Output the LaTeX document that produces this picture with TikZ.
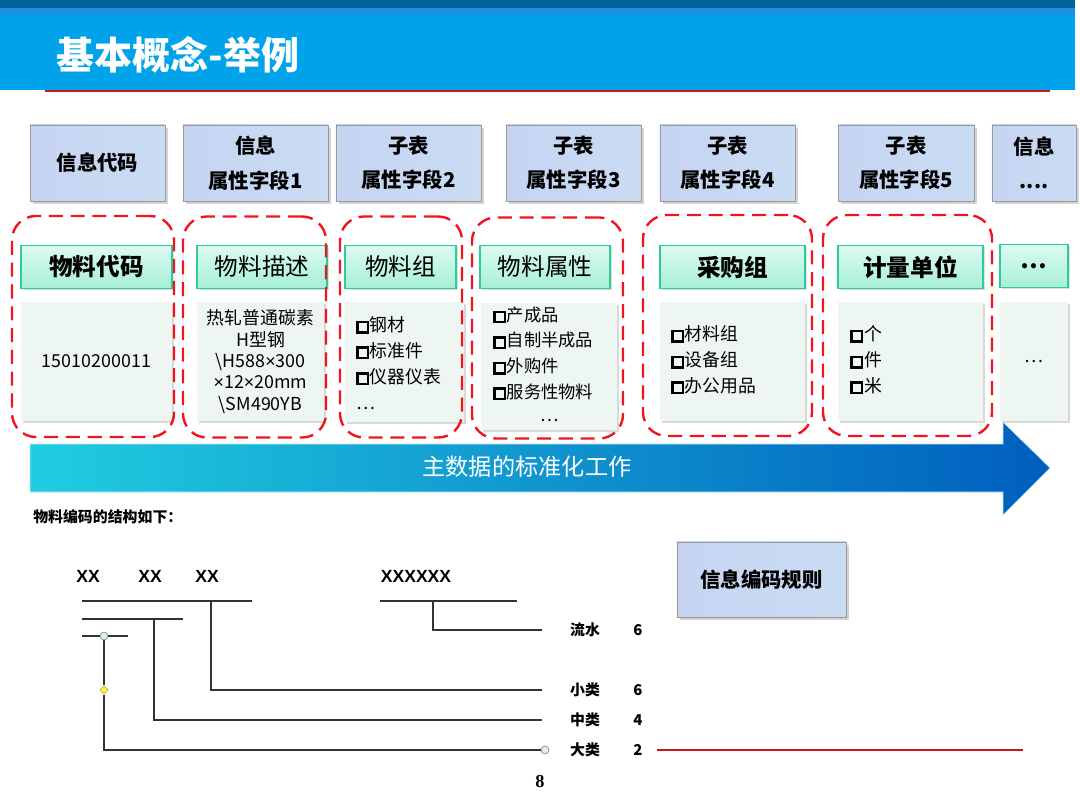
\documentclass[tikz,border=0pt]{standalone}
\usepackage{fontspec}
\setmainfont{Noto Sans CJK SC}
\newfontfamily\latinsans{Liberation Sans}
\newfontfamily\latinserif{Liberation Serif}
\usepackage{tikz}
\usetikzlibrary{shapes.geometric,shadows,calc}

\definecolor{bandDark}{HTML}{00639C}
\definecolor{bandStripe}{HTML}{1B8FE3}
\definecolor{bandMain}{HTML}{00A3E9}
\definecolor{ruleRed}{HTML}{D0141C}
\definecolor{dashRed}{HTML}{F0141E}
\definecolor{texL}{HTML}{C6D4F2}
\definecolor{texM}{HTML}{DCCEEC}
\definecolor{texR}{HTML}{C9DCF3}
\definecolor{tBorder}{HTML}{2CCB98}
\definecolor{tTop}{HTML}{DCFBF0}
\definecolor{tBot}{HTML}{A6EFD8}
\definecolor{cFill}{HTML}{EEF6F1}
\definecolor{arrL}{HTML}{20CDE0}
\definecolor{arrM}{HTML}{0A9CE2}
\definecolor{arrR}{HTML}{005EBE}
\definecolor{pinFill}{HTML}{D8EEF2}

% bold square bullet of the lists
\newcommand{\sqb}{\raisebox{0.02em}{\setlength{\fboxrule}{1.7pt}\setlength{\fboxsep}{0pt}\fbox{\rule{0pt}{0.46em}\hspace{0.46em}}}\hspace{0.04em}}
\newcommand{\tms}{{\latinsans ×}}

\begin{document}
\begin{tikzpicture}[x=0.025cm,y=-0.025cm,
  hbox/.style={draw=black!40,line width=0.6pt,left color=texL,middle color=texM,right color=texR,
    inner sep=0pt,outer sep=0pt,align=center,minimum height=1.9cm,
    font=\bfseries\fontsize{14.5}{24.5}\selectfont,
    drop shadow={shadow xshift=0.07cm,shadow yshift=-0.07cm,opacity=0.35}},
  tbox/.style={draw=tBorder,line width=1pt,top color=tTop,bottom color=tBot,
    inner sep=0pt,outer sep=0pt,minimum height=1.075cm,
    font=\fontsize{16.8}{20}\selectfont,
    drop shadow={shadow xshift=0.04cm,shadow yshift=-0.04cm,opacity=0.25}},
  cbox/.style={fill=cFill,inner sep=0pt,outer sep=0pt,minimum height=2.975cm,align=center,
    font=\fontsize{12.7}{15.2}\selectfont,
    drop shadow={shadow xshift=0.05cm,shadow yshift=-0.05cm,opacity=0.3}},
  grp/.style={draw=dashRed,line width=1.7pt,dash pattern=on 10pt off 5.5pt,
    rounded corners=0.6cm,inner sep=0pt,minimum height=5.525cm},
  lst/.style={anchor=west,align=left,inner sep=0pt,font=\fontsize{12.7}{18.4}\selectfont},
  xxl/.style={font=\latinsans\bfseries\fontsize{12.5}{14}\selectfont,inner sep=1pt},
  lvl/.style={font=\bfseries\fontsize{10.6}{12}\selectfont,inner sep=1pt},
  bar/.style={draw=black!80,line width=1pt},
  pin/.style={circle,draw=black!45,fill=pinFill,line width=0.5pt,inner sep=0pt,minimum size=0.2cm},
  diam/.style={diamond,draw=black!35,fill=yellow!85,line width=0.4pt,inner sep=0pt,minimum size=0.22cm}]
\useasboundingbox (0,0) rectangle (1080,810);
% ---------- title bar ----------
\fill[bandMain] (0,0) rectangle (1075,90);
\fill[bandStripe] (0,0) rectangle (1075,15);
\fill[bandDark] (0,0) rectangle (1075,8);
\draw[ruleRed,line width=1.6pt] (45,91) -- (1050,91);
\node[anchor=west,text=white,font=\bfseries\fontsize{27}{30}\selectfont] (title) at (52,55) {基本概念-举例};
% ---------- header fields ----------
\node[hbox,minimum width=3.375cm] (h1) at (97.5,163) {信息代码};
\node[hbox,minimum width=3.625cm] (h2) at (255.5,163) {信息\\属性字段1};
\node[hbox,minimum width=3.625cm] (h3) at (408.5,163) {子表\\属性字段2};
\node[hbox,minimum width=3.375cm] (h4) at (573.5,163) {子表\\属性字段3};
\node[hbox,minimum width=3.375cm] (h5) at (727.5,163) {子表\\属性字段4};
\node[hbox,minimum width=3.4cm] (h6) at (906,163) {子表\\属性字段5};
\node[hbox,minimum width=2.1cm] (h7) at (1034,163) {信息\\....};
% ---------- field names ----------
\node[tbox,minimum width=3.775cm,font=\bfseries\fontsize{16.8}{20}\selectfont] (t1) at (96.5,267) {物料代码};
\node[tbox,minimum width=3.25cm] (t2) at (262,267) {物料描述};
\node[tbox,minimum width=2.775cm] (t3) at (400.5,267) {物料组};
\node[tbox,minimum width=3.25cm] (t4) at (545,267) {物料属性};
\node[tbox,minimum width=3.625cm,font=\bfseries\fontsize{16.8}{20}\selectfont] (t5) at (732.5,267) {采购组};
\node[tbox,minimum width=3.625cm,font=\bfseries\fontsize{16.8}{20}\selectfont] (t6) at (910.5,267) {计量单位};
\node[tbox,minimum width=1.7cm,font=\bfseries\fontsize{16.8}{20}\selectfont] (t7) at (1034,266) {…};
% ---------- field values ----------
\node[cbox,minimum width=3.775cm] (c1) at (96.5,361.5) {15010200011};
\node[cbox,minimum width=3.175cm] (c2) at (260.5,361.5) {热轧普通碳素\\H型钢\\\textbackslash H588\tms 300\\\tms 12\tms 20mm\\\textbackslash SM490YB};
\node[cbox,minimum width=2.975cm] (c3) at (404.5,362) {};
\node[cbox,minimum width=3.4cm,minimum height=3.175cm] (c4) at (549,366.5) {};
\node[cbox,minimum width=3.625cm] (c5) at (732.5,361.5) {};
\node[cbox,minimum width=3.625cm] (c6) at (910.5,361.5) {};
\node[cbox,minimum width=1.7cm] (c7) at (1034,361.5) {…};
\node[lst] (l3) at (356,363) {\sqb 钢材\\\sqb 标准件\\\sqb 仪器仪表\\…};
\node[lst,font=\fontsize{12.3}{18.2}\selectfont] (l4) at (493,353.5) {\sqb 产成品\\\sqb 自制半成品\\\sqb 外购件\\\sqb 服务性物料};
\node[inner sep=0pt,font=\fontsize{12.3}{14}\selectfont] (l4more) at (550,421) {…};
\node[lst] (l5) at (671,360) {\sqb 材料组\\\sqb 设备组\\\sqb 办公用品};
\node[lst] (l6) at (850,360) {\sqb 个\\\sqb 件\\\sqb 米};
% ---------- dashed groups ----------
\node[grp,minimum width=4.05cm] (g1) at (93,326.5) {};
\node[grp,minimum width=3.575cm] (g2) at (254.5,327) {};
\node[grp,minimum width=3.05cm] (g3) at (401,327) {};
\node[grp,minimum width=3.775cm] (g4) at (547.5,328) {};
\node[grp,minimum width=4.225cm] (g5) at (727.5,325.5) {};
\node[grp,minimum width=4.225cm] (g6) at (907.5,325.5) {};
% ---------- flow arrow ----------
\shade[left color=arrL,middle color=arrM,right color=arrR,draw=cyan!25,line width=0.4pt]
  (30,444) -- (1003,444) -- (1003,422) -- (1050,468) -- (1003,515) -- (1003,492) -- (30,492) -- cycle;
\node[text=white,font=\fontsize{16.5}{18}\selectfont] (flow) at (527,467) {主数据的标准化工作};
% ---------- code structure ----------
\node[anchor=west,font=\bfseries\fontsize{10.6}{12}\selectfont,inner sep=0pt] (sub) at (33,517) {物料编码的结构如下：};
\node[xxl] (xa) at (88,576) {XX};
\node[xxl] (xb) at (150,576) {XX};
\node[xxl] (xc) at (207,576) {XX};
\node[xxl] (xs) at (416,576) {XXXXXX};
\node[hbox,minimum width=4.225cm,minimum height=1.875cm] (rule) at (761.5,579.5) {信息编码规则};
\node[lvl] (ls) at (585,630) {流水};
\node[lvl] (ns) at (638,630) {6};
\node[lvl] (lx) at (585,690) {小类};
\node[lvl] (nx) at (638,690) {6};
\node[lvl] (lz) at (585,720) {中类};
\node[lvl] (nz) at (638,720) {4};
\node[lvl] (ld) at (585,750) {大类};
\node[lvl] (nd) at (638,750) {2};
\coordinate (bA1) at (82,601); \coordinate (bA2) at (252,601);
\coordinate (bB1) at (82,619); \coordinate (bB2) at (183,619);
\coordinate (bC1) at (82,636); \coordinate (bC2) at (128,636);
\coordinate (bS1) at (380,601); \coordinate (bS2) at (517,601);
\coordinate (tapA) at (211,601); \coordinate (tapB) at (154,619); \coordinate (tapS) at (433,601);
\coordinate (endS) at (542,630); \coordinate (endX) at (542,690); \coordinate (endZ) at (542,720);
\coordinate (redEnd) at (1023,750);
\draw[bar] (bA1) -- (bA2);
\draw[bar] (bB1) -- (bB2);
\draw[bar] (bC1) -- (bC2);
\draw[bar] (bS1) -- (bS2);
\draw[bar] (tapS) |- (endS);
\draw[bar] (tapA) |- (endX);
\draw[bar] (tapB) |- (endZ);
\node[pin] (pinC) at (104,636) {};
\node[pin] (pinD) at (545,750) {};
\node[diam] (mid) at (104,690) {};
\draw[bar] (pinC) -- (mid);
\draw[bar] (mid) |- (pinD);
\draw[ruleRed,line width=1.3pt] ($(nd.east)+(13,0)$) -- (redEnd);
\node[font=\latinserif\bfseries\fontsize{13}{14}\selectfont] (pg) at (540,781) {8};
\end{tikzpicture}
\end{document}
